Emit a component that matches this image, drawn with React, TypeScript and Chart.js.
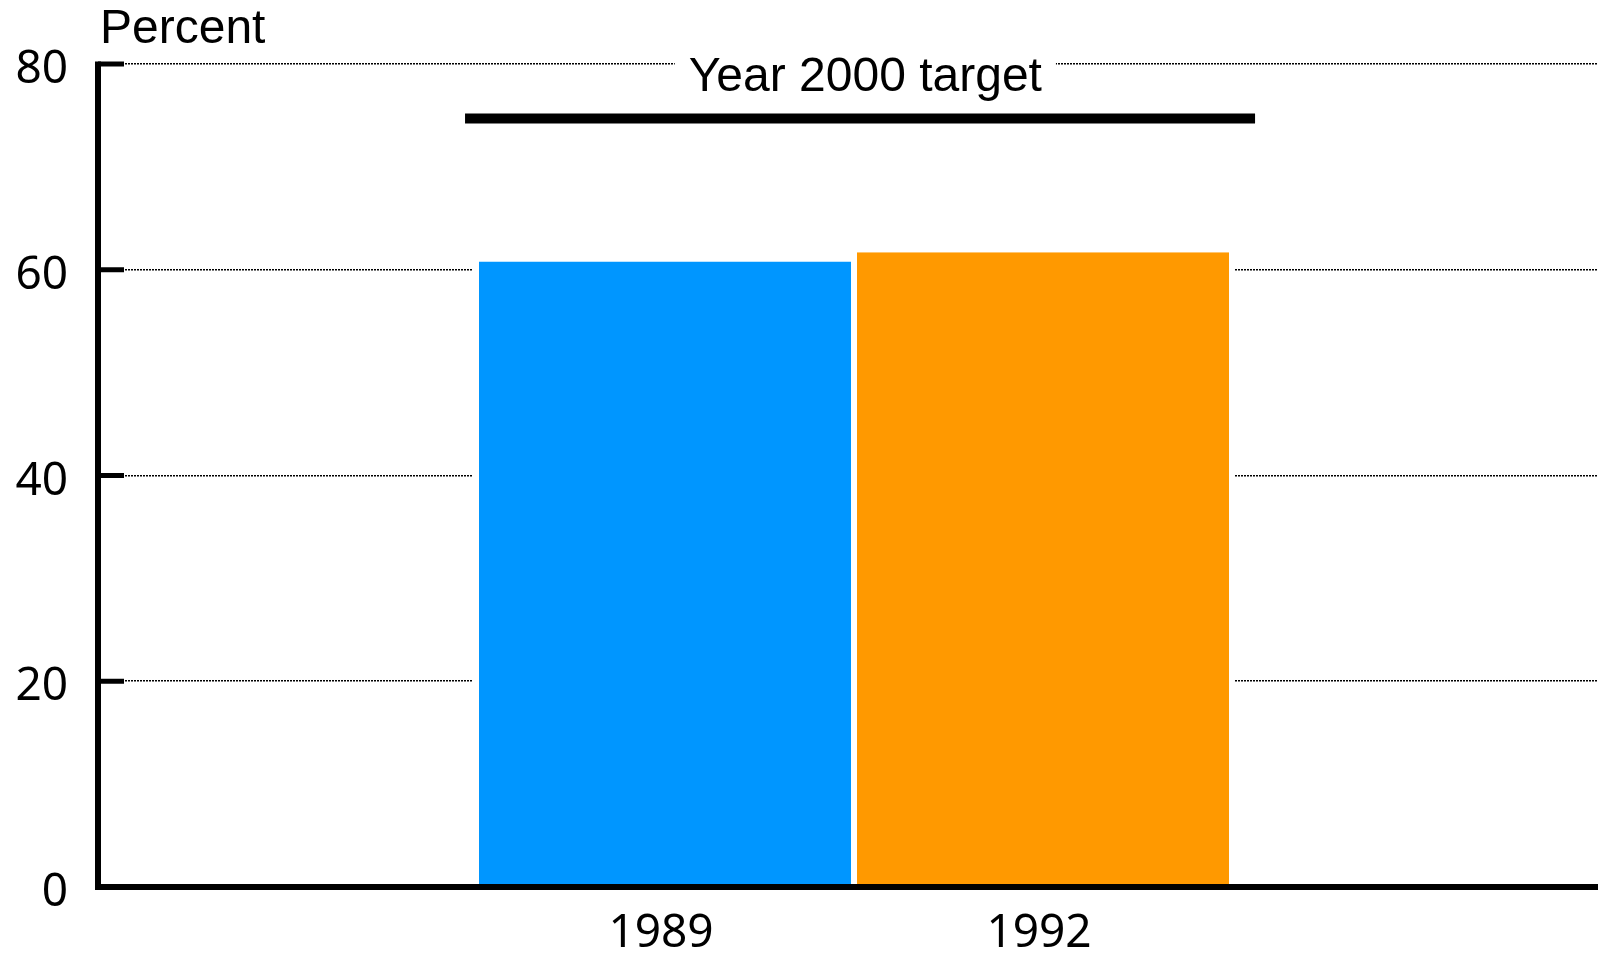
import React, { useEffect, useRef } from 'react';
import { Chart, registerables } from 'chart.js';

Chart.register(...registerables);

// ---- data ----
const CATEGORIES = ['', '1989', '1992', ''];
const PERCENT: (number | null)[] = [null, 60.8, 61.7, null];
const BAR_COLORS = ['#0096ff', '#0096ff', '#ff9900', '#ff9900'];
const Y_TICKS = [0, 20, 40, 60, 80];
const TARGET_VALUE = 74.7;
const TARGET_LABEL = 'Year 2000 target';
const Y_TITLE = 'Percent';

const TICK_FONT = '"Noto Sans", "Open Sans", sans-serif';
const LABEL_FONT = '"Liberation Sans", Arial, sans-serif';

const overlay = {
  id: 'overlay',
  afterDatasetsDraw(chart: any) {
    const { ctx, chartArea: a, scales } = chart;
    const x = scales.x;
    const y = scales.y;
    ctx.save();
    // target label with white knock-out on the top grid line
    ctx.font = `48px ${LABEL_FONT}`;
    const tx = x.getPixelForValue(1.53);
    const tw = ctx.measureText(TARGET_LABEL).width;
    ctx.fillStyle = '#fff';
    ctx.fillRect(tx - tw / 2 - 14, y.getPixelForValue(80) - 4, tw + 28, 8);
    ctx.fillStyle = '#000';
    ctx.textAlign = 'center';
    ctx.textBaseline = 'alphabetic';
    ctx.fillText(TARGET_LABEL, tx, a.top + 27);
    // target line
    ctx.strokeStyle = '#000';
    ctx.lineWidth = 10;
    ctx.lineCap = 'butt';
    const ty = y.getPixelForValue(TARGET_VALUE);
    ctx.beginPath();
    ctx.moveTo(x.getPixelForValue(0.471), ty);
    ctx.lineTo(x.getPixelForValue(2.561), ty);
    ctx.stroke();
    // axes
    ctx.lineWidth = 6;
    ctx.lineJoin = 'miter';
    ctx.beginPath();
    ctx.moveTo(a.left, a.top - 2.5);
    ctx.lineTo(a.left, a.bottom);
    ctx.lineTo(a.right, a.bottom);
    ctx.stroke();
    // inward tick marks
    ctx.lineWidth = 5;
    Y_TICKS.forEach((v) => {
      const py = y.getPixelForValue(v);
      ctx.beginPath();
      ctx.moveTo(a.left, py);
      ctx.lineTo(a.left + 26, py);
      ctx.stroke();
    });
    // axis title
    ctx.textAlign = 'left';
    ctx.fillStyle = '#000';
    ctx.font = `48px ${LABEL_FONT}`;
    ctx.fillText(Y_TITLE, a.left + 2, 43);
    ctx.restore();
  },
};

export default function App() {
  const ref = useRef<HTMLCanvasElement | null>(null);
  useEffect(() => {
    if (!ref.current) return;
    const chart = new Chart(ref.current, {
      type: 'bar',
      data: {
        labels: CATEGORIES,
        datasets: [
          {
            data: PERCENT,
            backgroundColor: BAR_COLORS,
            borderColor: '#ffffff',
            borderWidth: { left: 6, right: 6, top: 0, bottom: 0 },
            borderSkipped: false,
            barPercentage: 384 / 378,
            categoryPercentage: 1,
          } as any,
        ],
      },
      options: {
        responsive: false,
        animation: false,
        devicePixelRatio: 1,
        layout: { padding: { top: 64, left: 0, right: 0, bottom: 0 } },
        plugins: { legend: { display: false }, tooltip: { enabled: false } },
        scales: {
          x: {
            grid: { display: false, drawTicks: false },
            border: { display: false },
            ticks: {
              autoSkip: false,
              maxRotation: 0,
              color: '#000',
              padding: 19,
              labelOffset: -4,
              font: { family: TICK_FONT, size: 46 },
            },
            afterFit: (s: any) => {
              s.height = 68;
            },
          },
          y: {
            min: 0,
            max: 80,
            ticks: {
              stepSize: 20,
              color: '#000',
              padding: 30,
              labelOffset: 6,
              font: { family: TICK_FONT, size: 46 },
            },
            grid: { color: '#000', lineWidth: 1.6, drawTicks: false },
            border: { display: false, dash: [2, 1] },
            afterFit: (s: any) => {
              s.width = 98;
            },
          },
        },
      } as any,
      plugins: [overlay],
    });
    return () => chart.destroy();
  }, []);
  return (
    <div
      style={{
        position: 'fixed',
        left: 0,
        top: 0,
        width: 1598,
        height: 955,
        overflow: 'hidden',
        background: '#fff',
      }}
    >
      <canvas ref={ref} width={1610} height={955} style={{ display: 'block' }} />
    </div>
  );
}
